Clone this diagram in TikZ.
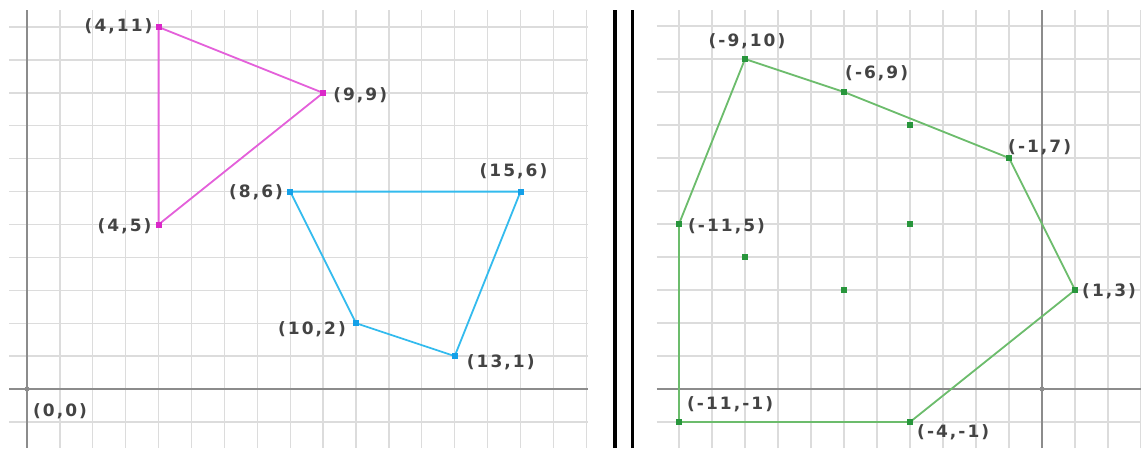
\documentclass[tikz,border=0pt]{standalone}
\usepackage{fontspec}
\newfontfamily\lblfont[LetterSpace=12]{DejaVu Sans Bold}
\definecolor{gridc}{RGB}{220,220,220}
\definecolor{axisc}{RGB}{140,140,140}
\definecolor{pinkl}{RGB}{228,96,218}
\definecolor{pinkd}{RGB}{218,40,200}
\definecolor{bluel}{RGB}{51,187,238}
\definecolor{blued}{RGB}{20,160,232}
\definecolor{greenl}{RGB}{108,188,108}
\definecolor{greend}{RGB}{40,150,60}
\definecolor{textc}{RGB}{68,68,68}
\tikzset{
  gridline/.style={draw=gridc, line width=1.3pt},
  axisline/.style={draw=axisc, line width=1.6pt},
  divider/.style={draw=black, line width=3.3pt},
  poly/.style={line width=1.8pt, line join=round},
  dot/.style={rectangle, minimum size=6pt, inner sep=0pt, fill=#1},
  odot/.style={circle, minimum size=5pt, inner sep=0pt, fill=axisc},
  lbl/.style={font=\lblfont\fontsize{17pt}{17pt}\selectfont, text=textc, inner sep=0pt},
}
\begin{document}
\begin{tikzpicture}[x=1pt,y=1pt]
\useasboundingbox (0,0) rectangle (1141,448);
\fill[white] (0,0) rectangle (1141,448);
% divider
\coordinate (d1b) at (615,0); \coordinate (d1t) at (615,438);
\coordinate (d2b) at (632.5,0); \coordinate (d2t) at (632.5,438);
\draw[divider] (d1b) -- (d1t);
\draw[divider] (d2b) -- (d2t);
% ---------------- left panel ----------------
\begin{scope}[shift={(27pt,59pt)}, x=32.9pt, y=32.9pt]
  \foreach \i in {0,...,17} \draw[gridline] (\i,-1.793) -- (\i,11.52);
  \foreach \j in {-1,...,11} \draw[gridline] (-0.547,\j) -- (17.05,\j);
  \coordinate (lxa) at (-0.547,0); \coordinate (lxb) at (17.05,0);
  \coordinate (lya) at (0,-1.793); \coordinate (lyb) at (0,11.52);
  \draw[axisline] (lxa) -- (lxb);
  \draw[axisline] (lya) -- (lyb);
  \node[odot] (o) at (0,0) {};
  \coordinate (p411) at (4,11);
  \coordinate (p99) at (9,9);
  \coordinate (p45) at (4,5);
  \coordinate (p86) at (8,6);
  \coordinate (p156) at (15,6);
  \coordinate (p131) at (13,1);
  \coordinate (p102) at (10,2);
  \draw[poly, pinkl] (p411) -- (p99) -- (p45) -- cycle;
  \draw[poly, bluel] (p86) -- (p156) -- (p131) -- (p102) -- cycle;
  \node[dot=pinkd] (d411) at (p411) {};
  \node[dot=pinkd] (d99) at (p99) {};
  \node[dot=pinkd] (d45) at (p45) {};
  \node[dot=blued] (d86) at (p86) {};
  \node[dot=blued] (d156) at (p156) {};
  \node[dot=blued] (d131) at (p131) {};
  \node[dot=blued] (d102) at (p102) {};
  \node[lbl, anchor=east] (l411) at ([xshift=-6pt,yshift=1pt]p411) {(4,11)};
  \node[lbl, anchor=west] (l99) at ([xshift=10pt,yshift=-2pt]p99) {(9,9)};
  \node[lbl, anchor=east] (l45) at ([xshift=-7pt,yshift=-1.5pt]p45) {(4,5)};
  \node[lbl, anchor=east] (l86) at ([xshift=-7pt,yshift=-1pt]p86) {(8,6)};
  \node[lbl] (l156) at ([xshift=-7pt,yshift=20pt]p156) {(15,6)};
  \node[lbl, anchor=east] (l102) at ([xshift=-10pt,yshift=-6pt]p102) {(10,2)};
  \node[lbl, anchor=west] (l131) at ([xshift=12pt,yshift=-6pt]p131) {(13,1)};
  \node[lbl, anchor=west] (l00) at ([xshift=6pt,yshift=-22pt]o) {(0,0)};
\end{scope}
% ---------------- right panel ----------------
\begin{scope}[shift={(1042pt,59pt)}, x=33pt, y=33pt]
  \foreach \i in {-11,...,3} \draw[gridline] (\i,-1.788) -- (\i,11.485);
  \foreach \j in {-1,...,11} \draw[gridline] (-11.667,\j) -- (3.0,\j);
  \coordinate (rxa) at (-11.667,0); \coordinate (rxb) at (3.0,0);
  \coordinate (rya) at (0,-1.788); \coordinate (ryb) at (0,11.485);
  \draw[axisline] (rxa) -- (rxb);
  \draw[axisline] (rya) -- (ryb);
  \node[odot] (ro) at (0,0) {};
  \coordinate (q910) at (-9,10);
  \coordinate (q69) at (-6,9);
  \coordinate (q17) at (-1,7);
  \coordinate (q13) at (1,3);
  \coordinate (q4m1) at (-4,-1);
  \coordinate (q11m1) at (-11,-1);
  \coordinate (q115) at (-11,5);
  \coordinate (q48) at (-4,8);
  \coordinate (q45) at (-4,5);
  \coordinate (q94) at (-9,4);
  \coordinate (q63) at (-6,3);
  \draw[poly, greenl] (q910) -- (q69) -- (q17) -- (q13) -- (q4m1) -- (q11m1) -- (q115) -- cycle;
  \foreach \p in {q910,q69,q17,q13,q4m1,q11m1,q115,q48,q45,q94,q63}
    \node[dot=greend] (d\p) at (\p) {};
  \node[lbl] (l910) at ([xshift=2pt,yshift=18pt]q910) {(-9,10)};
  \node[lbl, anchor=west] (l69) at ([xshift=1pt,yshift=19pt]q69) {(-6,9)};
  \node[lbl, anchor=west] (l17) at ([xshift=-1pt,yshift=11pt]q17) {(-1,7)};
  \node[lbl, anchor=west] (l115) at ([xshift=9pt,yshift=-2.5pt]q115) {(-11,5)};
  \node[lbl, anchor=west] (l13) at ([xshift=7pt,yshift=-1pt]q13) {(1,3)};
  \node[lbl, anchor=west] (l11m1) at ([xshift=8pt,yshift=18pt]q11m1) {(-11,-1)};
  \node[lbl, anchor=west] (l4m1) at ([xshift=7pt,yshift=-10pt]q4m1) {(-4,-1)};
\end{scope}
\end{tikzpicture}
\end{document}
